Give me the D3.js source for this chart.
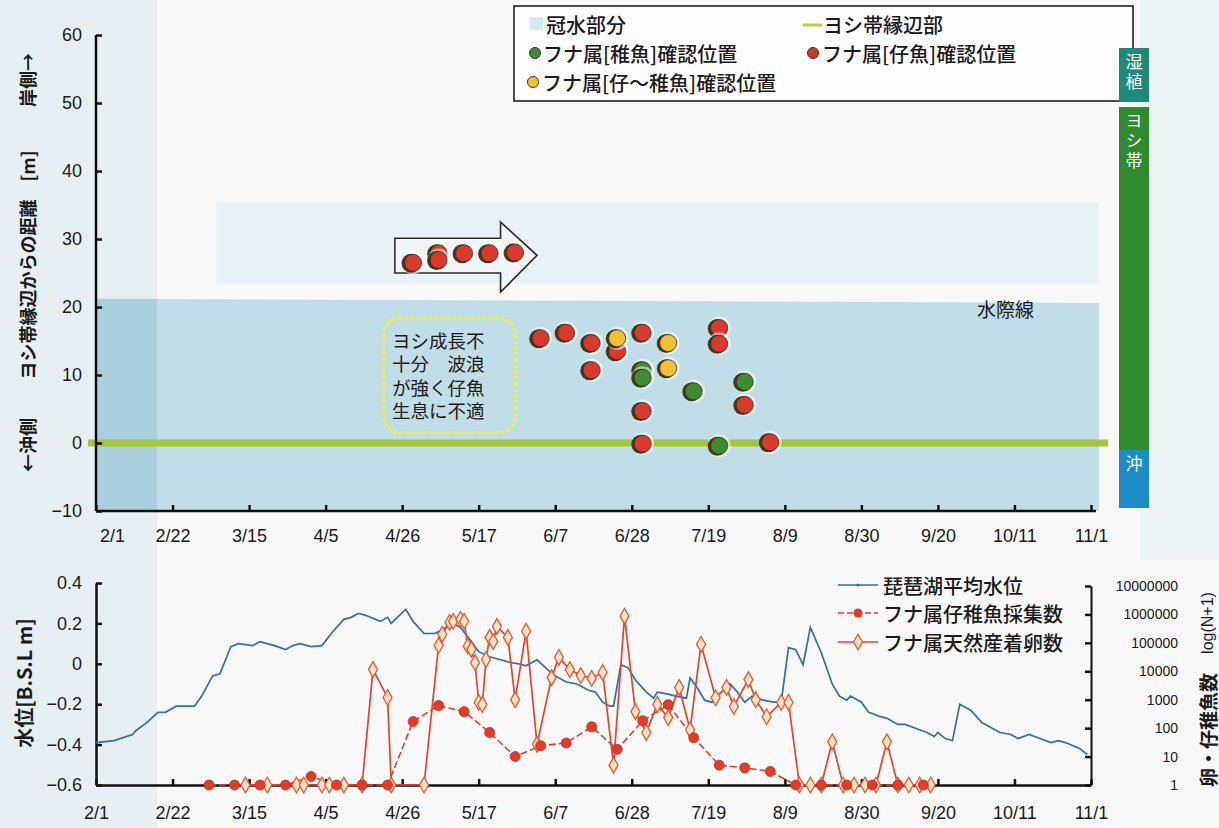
<!DOCTYPE html>
<html><head><meta charset="utf-8">
<script src="https://cdn.jsdelivr.net/npm/d3@7"></script>
<style>
body{margin:0;background:#f7f8f7;}
svg{display:block;}
text{font-family:"Liberation Sans",Arial,sans-serif;fill:#1a1a1a;}
.jp{font-family:"Noto Sans CJK JP","Noto Sans",sans-serif;}
</style></head><body>
<svg id="c" width="1219" height="828"></svg>
<script>
// ---------------- DATA ----------------
const dateTicks = ["2/1","2/22","3/15","4/5","4/26","5/17","6/7","6/28","7/19","8/9","8/30","9/20","10/11","11/1"];
const distTicks = [-10,0,10,20,30,40,50,60];
const levelTicks = [-0.6,-0.4,-0.2,0,0.2,0.4];
const countTicks = [1,10,100,1000,10000,100000,1000000,10000000];

// top chart: fish positions [date, distance m]
const larvaPts = [["4/29",26.5],["5/6",27.9],["5/6",26.9],["5/13",27.9],["5/20",27.9],["5/27",28.0],
  ["6/3",15.4],["6/10",16.2],["6/17",14.7],["6/17",10.7],["6/24",13.5],
  ["7/1",16.2],["7/1",4.7],["7/1",-0.1],["7/22",16.9],["7/22",14.6],["7/29",5.6],["8/5",0.1]];
const juvenilePts = [["7/1",10.7],["7/1",9.6],["7/15",7.6],["7/22",-0.4],["7/29",9.0]];
const mixedPts = [["6/24",15.4],["7/8",14.7],["7/8",11.0]];
// flooded zone upper edge [date, m]
const floodEdge = [["2/1",21.2],["11/1",20.6]];
// reed-belt edge line [m]
const reedEdge = 0;

// bottom chart: Lake Biwa mean water level [date, m B.S.L]
const lakeLevel = [["2/1",-0.39],["2/6",-0.38],["2/11",-0.35],["2/12",-0.33],["2/15",-0.29],["2/18",-0.24],["2/20",-0.24],
 ["2/23",-0.21],["2/28",-0.21],["3/2",-0.16],["3/5",-0.06],["3/7",-0.05],["3/10",0.085],["3/12",0.10],["3/16",0.09],
 ["3/18",0.11],["3/22",0.09],["3/25",0.07],["3/27",0.09],["3/29",0.10],["4/1",0.085],["4/4",0.09],["4/7",0.16],
 ["4/10",0.22],["4/12",0.23],["4/14",0.25],["4/16",0.24],["4/20",0.21],["4/22",0.23],["4/23",0.20],["4/27",0.27],
 ["4/29",0.21],["5/2",0.15],["5/5",0.15],["5/7",0.17],["5/10",0.20],["5/12",0.18],["5/15",0.11],["5/17",0.06],
 ["5/20",0.035],["5/23",0.02],["5/26",0.005],["5/28",0.0],["5/30",-0.01],["6/2",0.02],["6/5",-0.03],["6/7",-0.06],
 ["6/10",-0.09],["6/13",-0.10],["6/16",-0.13],["6/18",-0.14],["6/20",-0.19],["6/22",-0.21],["6/23",-0.21],
 ["6/25",-0.005],["6/27",-0.02],["6/29",-0.08],["7/2",-0.14],["7/4",-0.17],["7/5",-0.14],["7/8",-0.15],["7/10",-0.16],
 ["7/13",-0.17],["7/14",-0.07],["7/16",-0.12],["7/18",-0.18],["7/20",-0.19],["7/22",-0.15],["7/25",-0.10],
 ["7/27",-0.14],["7/29",-0.19],["7/31",-0.16],["8/3",-0.18],["8/6",-0.19],["8/8",-0.19],["8/10",0.08],["8/12",0.07],
 ["8/14",-0.005],["8/16",0.18],["8/19",0.055],["8/22",-0.10],["8/24",-0.16],["8/26",-0.18],["8/27",-0.16],
 ["8/30",-0.19],["9/1",-0.24],["9/4",-0.26],["9/6",-0.27],["9/9",-0.30],["9/11",-0.30],["9/14",-0.32],["9/17",-0.34],
 ["9/19",-0.36],["9/20",-0.34],["9/22",-0.37],["9/24",-0.38],["9/26",-0.20],["9/29",-0.23],["10/2",-0.29],
 ["10/4",-0.31],["10/7",-0.34],["10/10",-0.35],["10/12",-0.37],["10/15",-0.35],["10/18",-0.37],["10/21",-0.39],
 ["10/23",-0.38],["10/25",-0.39],["10/29",-0.42],["10/31",-0.45]];

// crucian carp larvae/juveniles collected (N)
const fryCount = [["3/4",0],["3/11",0],["3/18",0],["3/25",0],["4/1",1],["4/8",0],["4/15",0],["4/22",0],
 ["4/29",170],["5/6",620],["5/13",380],["5/20",69],["5/27",9],["6/3",23],["6/10",29],["6/17",110],["6/24",17],
 ["7/1",180],["7/8",670],["7/15",45],["7/22",4],["7/29",3],["8/5",2],["8/12",0],["8/19",0],["8/26",0],
 ["9/2",0],["9/9",0],["9/16",0]];

// natural spawned eggs (N)
const eggCount = [["3/14",0],["3/20",0],["3/28",0],["3/30",0],["4/4",0],["4/6",0],["4/10",0],["4/15",0],
 ["4/18",11500],["4/22",1200],["4/23",0],["5/2",0],["5/6",81000],["5/7",200000],["5/9",525000],["5/10",575000],
 ["5/12",676000],["5/13",575000],["5/14",76000],["5/15",59000],["5/16",20000],["5/17",800],["5/18",680],
 ["5/19",26000],["5/20",155000],["5/21",112000],["5/22",380000],["5/25",155000],["5/27",1000],["5/30",257000],
 ["6/2",26],["6/6",6000],["6/8",31000],["6/11",11500],["6/14",7100],["6/17",5600],["6/20",9100],["6/23",4],
 ["6/26",870000],["6/29",380],["7/2",69],["7/5",680],["7/8",234],["7/11",2700],["7/14",87],["7/17",89000],
 ["7/21",1170],["7/24",2700],["7/26",575],["7/30",5100],["8/1",1000],["8/4",250],["8/8",800],["8/10",800],
 ["8/13",0],["8/16",0],["8/19",0],["8/22",32],["8/25",0],["8/28",0],["8/31",0],["9/3",0],["9/6",32],
 ["9/9",0],["9/12",0],["9/15",0],["9/18",0]];

// ---------------- CHART ----------------
const parse = d3.timeParse("%m/%d");
const svg = d3.select("#c");
const x = d3.scaleTime().domain([parse("2/1"), parse("11/1")]).range([96, 1091]);
const yTop = d3.scaleLinear().domain([-10, 60]).range([511, 35]);
const yLev = d3.scaleLinear().domain([-0.6, 0.4]).range([785, 583]);
const yCnt = d3.scaleLog().domain([1, 1e7]).range([785, 586]);

// page tint (scan look)
svg.append("rect").attr("width",1219).attr("height",828).attr("fill","#f7f8f7");
svg.append("rect").attr("x",0).attr("y",0).attr("width",157).attr("height",828).attr("fill","#e6eff2");
svg.append("rect").attr("x",1140).attr("y",0).attr("width",79).attr("height",560).attr("fill","#eef3f4");

// ---- top chart ----
const gTop = svg.append("g");
// faint band
gTop.append("rect").attr("x",x(parse("3/6"))).attr("y",yTop(35.5)).attr("width",x(parse("11/1"))+8-x(parse("3/6")))
  .attr("height",yTop(23.5)-yTop(35.5)).attr("fill","#e8f1f4");
// flooded area
const fl = d3.area().x(d=>x(parse(d[0]))).y0(yTop(-10)).y1(d=>yTop(d[1]));
gTop.append("path").datum(floodEdge).attr("d",fl).attr("fill","#c0dee7");
gTop.append("rect").attr("x",x(parse("2/1"))).attr("y",yTop(floodEdge[0][1])).attr("width",157-x(parse("2/1")))
  .attr("height",yTop(-10)-yTop(floodEdge[0][1])).attr("fill","#abd0dd");
gTop.append("rect").attr("x",x(parse("11/1"))).attr("y",yTop(20.6)).attr("width",8)
  .attr("height",yTop(-10)-yTop(20.6)).attr("fill","#c0dee7");

// reed edge line
gTop.append("line").attr("x1",88).attr("x2",1108).attr("y1",yTop(reedEdge)).attr("y2",yTop(reedEdge))
  .attr("stroke","#a3c63a").attr("stroke-width",7);

// axes
const axL = d3.axisLeft(yTop).tickValues(distTicks).tickSize(-6).tickSizeOuter(0).tickPadding(14);
const gL = gTop.append("g").attr("transform","translate(96,0)").call(axL);
const axB = d3.axisBottom(x).tickValues(dateTicks.map(parse)).tickFormat(d3.timeFormat("%-m/%-d")).tickSize(-6).tickSizeOuter(0).tickPadding(18);
const gB = gTop.append("g").attr("transform","translate(0,511)").call(axB);
[gL,gB].forEach(g=>{
  g.select(".domain").attr("stroke","#111").attr("stroke-width",2.5);
  g.selectAll(".tick line").attr("stroke","#111").attr("stroke-width",2.5);
  g.selectAll("text").attr("font-size",18).attr("fill","#1a1a1a");
});
gB.select(".domain").attr("d","M96,0H1096");
gB.selectAll(".tick").filter((d,i)=>i===0).select("text").attr("dx",16);
gL.select(".domain").attr("d","M0,511V35");

// arrow annotation
const arrowPts = [["4/24",30.1],["5/23",30.1],["5/23",32.5],["6/2",27.6],["5/23",22.2],["5/23",25.0],["4/24",25.0]];
gTop.append("path").attr("d", "M"+arrowPts.map(p=>[x(parse(p[0])),yTop(p[1])].join(",")).join("L")+"Z")
  .attr("fill","rgba(255,255,255,0.35)").attr("stroke","#2a2a2a").attr("stroke-width",1.6);

// callout
const cx0=x(parse("4/21")), cx1=x(parse("5/27")), cy0=yTop(18.4), cy1=yTop(1.5);
gTop.append("rect").attr("x",cx0).attr("y",cy0).attr("width",cx1-cx0).attr("height",cy1-cy0).attr("rx",16)
  .attr("fill","none").attr("stroke","#f2f23c").attr("stroke-width",3.5).attr("stroke-dasharray","0.5 5.5").attr("stroke-linecap","round");
const calloutLines = ["ヨシ成長不","十分　波浪","が強く仔魚","生息に不適"];
gTop.selectAll(".cl").data(calloutLines).join("text").attr("class","jp")
  .attr("x",cx0+8).attr("y",(d,i)=>cy0+22+i*23.5).attr("dominant-baseline","central")
  .attr("font-size",18.5).text(d=>d);

gTop.append("text").attr("class","jp").attr("x",977).attr("y",308).attr("dominant-baseline","central")
  .attr("font-size",19).text("水際線");

// fish points
function drawPts(data, fill){
  const g = gTop.append("g");
  data.forEach(d=>{
    const px=x(parse(d[0])), py=yTop(d[1]);
    g.append("circle").attr("cx",px).attr("cy",py).attr("r",11.5).attr("fill","rgba(255,255,255,0.55)");
    g.append("circle").attr("cx",px-2).attr("cy",py+0.5).attr("r",9.5).attr("fill","#3a3d22");
    g.append("circle").attr("cx",px).attr("cy",py).attr("r",8.5).attr("fill",fill).attr("stroke","#4a2a18").attr("stroke-width",0.8);
  });
}
drawPts(larvaPts,"#d93a2b");
drawPts(juvenilePts,"#3b8d2d");
drawPts(mixedPts,"#f1c033");

// y title (top)
const yt = [["←沖側",445],["ヨシ帯縁辺からの距離　[m]",265],["岸側→",80]];
yt.forEach(t=>{
  svg.append("text").attr("class","jp").attr("transform",`translate(27,${t[1]}) rotate(-90)`)
    .attr("text-anchor","middle").attr("dominant-baseline","central").attr("font-size",18).attr("font-weight","bold").text(t[0]);
});

// legend box
const lg = svg.append("g");
lg.append("rect").attr("x",514).attr("y",6).attr("width",619).attr("height",95).attr("fill","#fdfdfd").attr("stroke","#222").attr("stroke-width",1.6);
lg.append("rect").attr("x",530).attr("y",17).attr("width",13).attr("height",13).attr("fill","#d3eaef");
lg.append("line").attr("x1",803).attr("x2",822).attr("y1",25).attr("y2",25).attr("stroke","#b5d33a").attr("stroke-width",3);
[[535,53,"#3b8d2d"],[813,53,"#c93a2b"],[533,82,"#f1c033"]].forEach(c=>{
  lg.append("circle").attr("cx",c[0]).attr("cy",c[1]).attr("r",5.5).attr("fill",c[2]).attr("stroke","#333").attr("stroke-width",1);
});
const legTexts = [[546,24,"冠水部分"],[823,24,"ヨシ帯縁辺部"],[543,53,"フナ属[稚魚]確認位置"],[822,53,"フナ属[仔魚]確認位置"],[542,82,"フナ属[仔～稚魚]確認位置"]];
legTexts.forEach(t=>{
  lg.append("text").attr("class","jp").attr("x",t[0]).attr("y",t[1]).attr("dominant-baseline","central")
    .attr("font-size",20).attr("font-weight",500).text(t[2]);
});

// zone bar (vertical labels as single vertical-writing texts)
const zones = [["湿植",48,102,"#1d8a7a"],["ヨシ帯",107,450,"#2e8c2e"],["沖",450,508,"#1c8cc6"]];
zones.forEach(z=>{
  svg.append("rect").attr("x",1119).attr("y",z[1]).attr("width",30).attr("height",z[2]-z[1]).attr("fill",z[3]);
  svg.append("text").attr("class","jp").attr("x",1134).attr("y",z[1]+5)
    .style("writing-mode","vertical-rl").attr("font-size",17).attr("letter-spacing",3)
    .style("fill","#fff").text(z[0]);
});

// ---- bottom chart ----
const bot = svg.append("g");
const bL = bot.append("g").attr("transform","translate(96,0)")
  .call(d3.axisLeft(yLev).tickValues(levelTicks).tickFormat(d=>d===0?"0":d3.format(".1f")(d)).tickSize(-6).tickSizeOuter(0).tickPadding(14));
const bR = bot.append("g").attr("transform","translate(1091,0)")
  .call(d3.axisRight(yCnt).tickValues(countTicks).tickFormat(d3.format("d")).tickSize(-6).tickSizeOuter(0).tickPadding(87));
const bB = bot.append("g").attr("transform","translate(0,785)")
  .call(d3.axisBottom(x).tickValues(dateTicks.map(parse)).tickFormat(d3.timeFormat("%-m/%-d")).tickSize(-6).tickSizeOuter(0).tickPadding(21));
[bL,bR,bB].forEach(g=>{
  g.select(".domain").attr("stroke","#111").attr("stroke-width",2.5);
  g.selectAll(".tick line").attr("stroke","#111").attr("stroke-width",2.5);
  g.selectAll("text").attr("font-size",18).attr("fill","#1a1a1a");
});
bR.selectAll("text").attr("font-size",14).attr("text-anchor","end");
bR.select(".domain").attr("stroke-width",2);

// lake level line
const lineLev = d3.line().x(d=>x(parse(d[0]))).y(d=>yLev(d[1]));
bot.append("path").datum(lakeLevel).attr("d",lineLev).attr("fill","none").attr("stroke","#2f6ea6").attr("stroke-width",1.7);

// egg line (diamonds)
const lineCnt = d3.line().x(d=>x(parse(d[0]))).y(d=>yCnt(d[1]+1));
bot.append("path").datum(eggCount).attr("d",lineCnt).attr("fill","none").attr("stroke","#e3442e").attr("stroke-width",1.7);
// fry line (dots)
bot.append("path").datum(fryCount).attr("d",lineCnt).attr("fill","none").attr("stroke","#de402c").attr("stroke-width",1.6).attr("stroke-dasharray","7 3");
const diamond = d3.symbol().type(d3.symbolDiamond).size(70);
bot.selectAll(".egg").data(eggCount).join("path").attr("class","egg")
  .attr("transform",d=>`translate(${x(parse(d[0]))},${yCnt(d[1]+1)})`).attr("d",diamond)
  .attr("fill","#fbe2c4").attr("stroke","#e2582f").attr("stroke-width",1.3);
bot.selectAll(".fry").data(fryCount).join("circle").attr("class","fry")
  .attr("cx",d=>x(parse(d[0]))).attr("cy",d=>yCnt(d[1]+1)).attr("r",5)
  .attr("fill","#e43a2a").attr("stroke","#c02c1e").attr("stroke-width",0.8);

// bottom legend
const bl = svg.append("g");
bl.append("line").attr("x1",838).attr("x2",878).attr("y1",585).attr("y2",585).attr("stroke","#2f6ea6").attr("stroke-width",1.6);
bl.append("circle").attr("cx",858).attr("cy",585).attr("r",1.5).attr("fill","#2f6ea6");
bl.append("line").attr("x1",838).attr("x2",878).attr("y1",613).attr("y2",613).attr("stroke","#de402c").attr("stroke-width",1.5).attr("stroke-dasharray","6 3");
bl.append("circle").attr("cx",858).attr("cy",613).attr("r",4.5).attr("fill","#e43a2a");
bl.append("line").attr("x1",838).attr("x2",878).attr("y1",642).attr("y2",642).attr("stroke","#e3442e").attr("stroke-width",1.7);
bl.append("path").attr("transform","translate(858,642)").attr("d",diamond).attr("fill","#fbe2c4").attr("stroke","#e2582f").attr("stroke-width",1.3);
[[585,"琵琶湖平均水位"],[613,"フナ属仔稚魚採集数"],[642,"フナ属天然産着卵数"]].forEach(t=>{
  bl.append("text").attr("class","jp").attr("x",883).attr("y",t[0]).attr("dominant-baseline","central").attr("font-size",20).attr("font-weight",500).text(t[1]);
});

// bottom titles
svg.append("text").attr("class","jp").attr("transform","translate(23,683) rotate(-90)").attr("text-anchor","middle")
  .attr("dominant-baseline","central").attr("font-size",20).attr("font-weight","bold").text("水位[B.S.L m]");
svg.append("text").attr("class","jp").attr("transform","translate(1207,730) rotate(-90)").attr("text-anchor","middle")
  .attr("dominant-baseline","central").attr("font-size",19).attr("font-weight","bold").text("卵・仔稚魚数");
svg.append("text").attr("transform","translate(1207,623) rotate(-90)").attr("text-anchor","middle")
  .attr("dominant-baseline","central").attr("font-size",16).text("log(N+1)");
</script>
</body></html>
